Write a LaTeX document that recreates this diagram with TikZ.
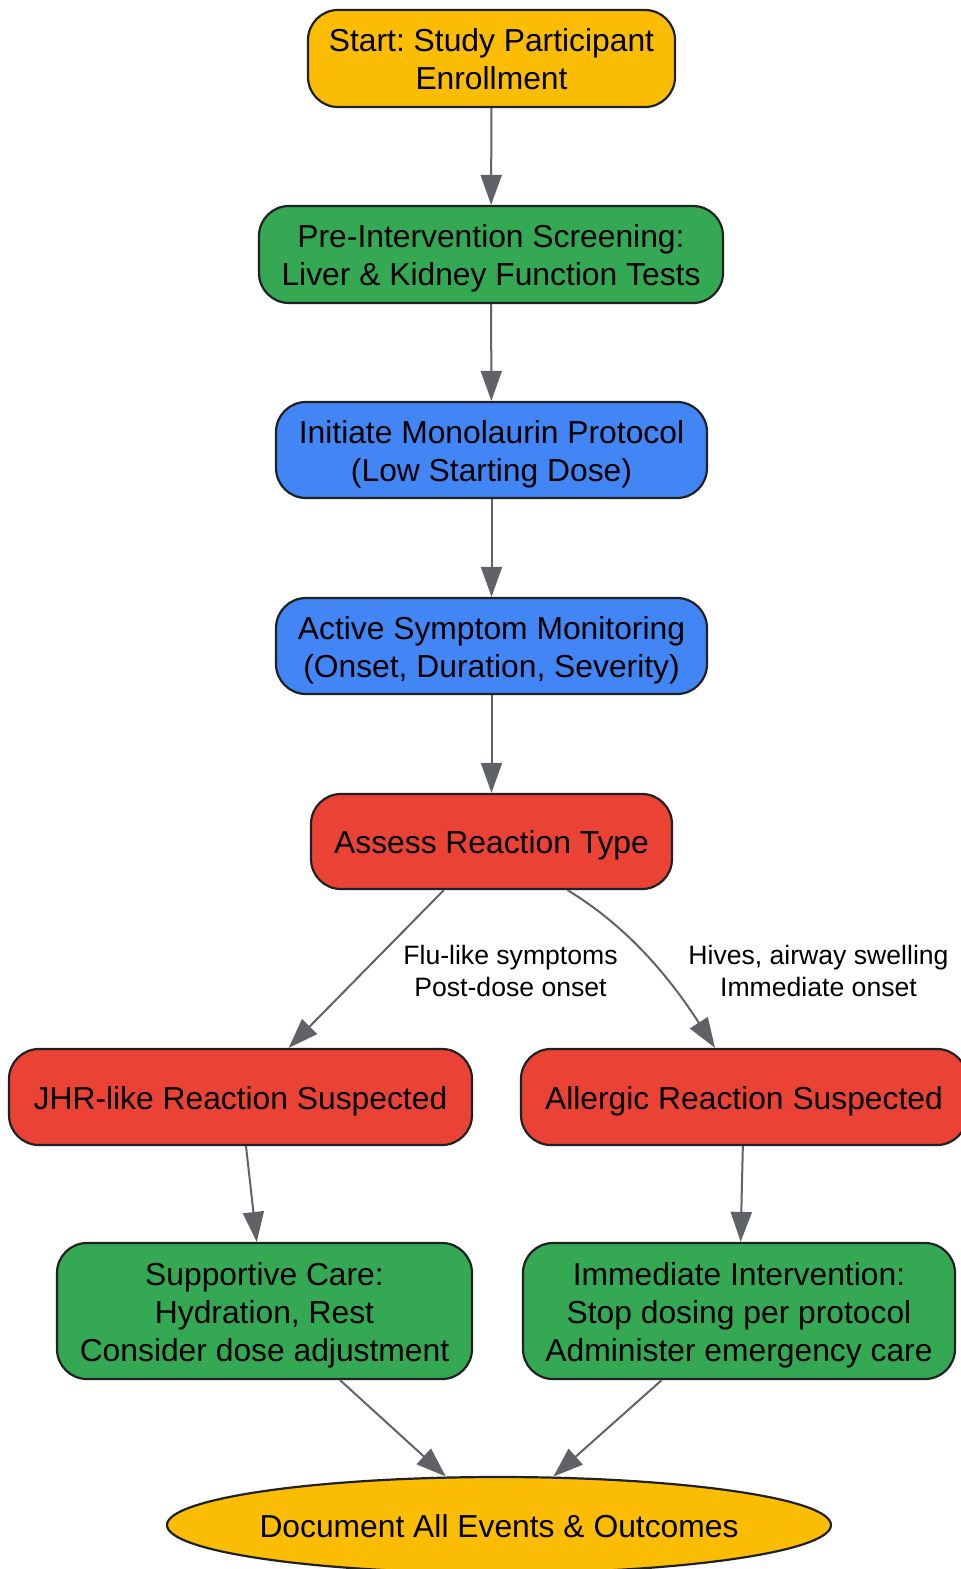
\documentclass[tikz,border=0pt]{standalone}
\usepackage{fontspec}
\setmainfont{Liberation Sans}
\usetikzlibrary{shapes.geometric,arrows.meta,calc}
\frenchspacing
\definecolor{cyellow}{HTML}{FBBC04}
\definecolor{cgreen}{HTML}{34A853}
\definecolor{cblue}{HTML}{4285F4}
\definecolor{cred}{HTML}{EA4335}
\definecolor{cedge}{HTML}{5F6368}
\definecolor{cborder}{HTML}{202124}
\newcommand{\lowtxt}[1]{\raisebox{-4.5pt}[\height][\depth]{\begin{tabular}{@{}c@{}}#1\end{tabular}}}
\tikzset{
  box/.style={draw=cborder, line width=2.2pt, rounded corners=30pt,
    inner sep=0pt, font=\fontsize{31.8}{38}\selectfont, text=black},
  oval/.style={draw=cborder, line width=2.2pt, ellipse, inner sep=0pt,
    font=\fontsize{31.8}{38}\selectfont, text=black},
  conn/.style={draw=cedge, line width=2pt, -{Triangle[length=30pt,width=21pt]}},
  elabel/.style={font=\fontsize{26.6}{32}\selectfont, align=center, text=black}
}
\begin{document}
\begin{tikzpicture}[x=1pt,y=-1pt]
\useasboundingbox (0,0) rectangle (961,1569);
\node[box, fill=cyellow, minimum width=367pt, minimum height=97pt] (start) at (491.5,58.5) {\lowtxt{Start: Study Participant\\Enrollment}};
\node[box, fill=cgreen, minimum width=464pt, minimum height=97pt] (pre) at (491,254.5) {\lowtxt{Pre-Intervention Screening:\\Liver \& Kidney Function Tests}};
\node[box, fill=cblue, minimum width=431pt, minimum height=96pt] (init) at (491.5,450) {\lowtxt{Initiate Monolaurin Protocol\\(Low Starting Dose)}};
\node[box, fill=cblue, minimum width=431pt, minimum height=96pt] (mon) at (491.5,646) {\lowtxt{Active Symptom Monitoring\\(Onset, Duration, Severity)}};
\node[box, fill=cred, minimum width=361pt, minimum height=95pt] (assess) at (491.5,841.5) {\lowtxt{Assess Reaction Type}};
\node[box, fill=cred, minimum width=463pt, minimum height=96pt] (jhr) at (240.5,1097) {\lowtxt{JHR-like Reaction Suspected}};
\node[box, fill=cred, minimum width=446pt, minimum height=96pt] (allergic) at (744,1097) {\lowtxt{Allergic Reaction Suspected}};
\node[box, fill=cgreen, minimum width=415pt, minimum height=136pt] (support) at (264.5,1311) {\lowtxt{Supportive Care:\\Hydration, Rest\\Consider dose adjustment}};
\node[box, fill=cgreen, minimum width=432pt, minimum height=136pt] (immed) at (739,1311) {\lowtxt{Immediate Intervention:\\Stop dosing per protocol\\Administer emergency care}};
\node[oval, fill=cyellow, minimum width=664pt, minimum height=96pt] (doc) at (499,1525) {\makebox[440pt]{\lowtxt{Document All Events \& Outcomes}}};

\draw[conn] (start) -- (pre);
\draw[conn] (pre) -- (init);
\draw[conn] (init) -- (mon);
\draw[conn] (mon) -- (assess);
\draw[conn] (assess) -- (jhr);
\draw[conn] ($(assess.south)+(76,0)$) .. controls ($(assess.south)+(112,22)$) and ($(allergic.north)+(-92,-98)$) .. ($(allergic.north)+(-29,0)$);
\draw[conn] (jhr) -- (support);
\draw[conn] (allergic) -- (immed);
\draw[conn] (support) -- (doc);
\draw[conn] (immed) -- (doc);

\node[elabel] (lab1) at (510.5,970.5) {Flu-like symptoms\\Post-dose onset};
\node[elabel] (lab2) at (818.5,970.5) {Hives, airway swelling\\Immediate onset};
\end{tikzpicture}
\end{document}
